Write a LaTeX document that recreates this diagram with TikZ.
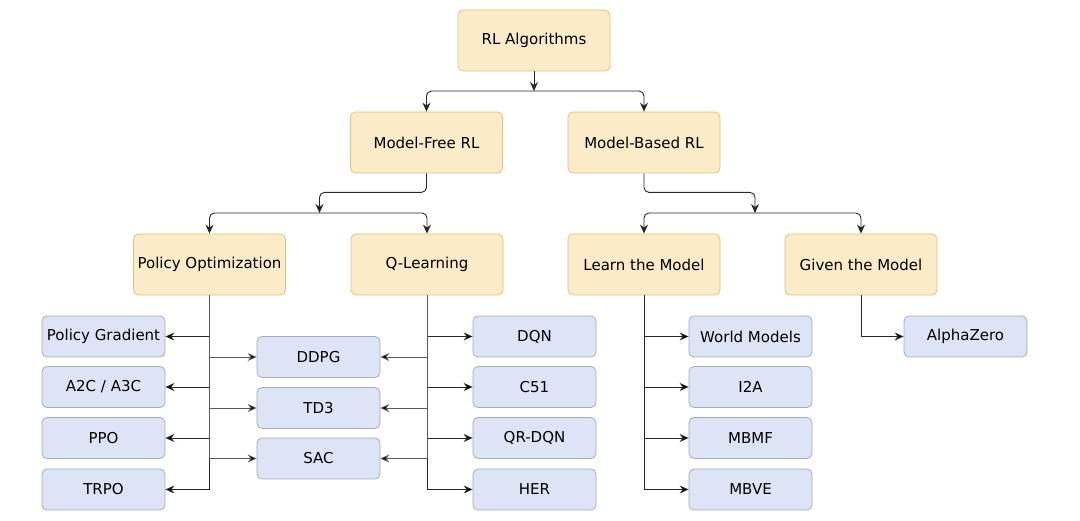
\documentclass[tikz,border=0pt]{standalone}
\usepackage{fontspec}
\setmainfont{DejaVu Sans}
\usepackage{tikz}
\usetikzlibrary{arrows.meta,positioning}
\usepackage{xcolor}
\definecolor{grpfill}{HTML}{FCEBC8}
\definecolor{grpline}{HTML}{DEC27A}
\definecolor{algofill}{HTML}{DDE4F5}
\definecolor{algoline}{HTML}{A3ABBD}
\definecolor{wire}{HTML}{262626}
\definecolor{softwire}{HTML}{5A5A5A}

\begin{document}
\begin{tikzpicture}[x=1pt,y=-1pt,font=\fontsize{15}{18}\selectfont,
grp/.style={draw=grpline,fill=grpfill,rounded corners=5pt,minimum width=152pt,minimum height=61pt,inner sep=0pt,line width=0.8pt},
algo/.style={draw=algoline,fill=algofill,rounded corners=5pt,minimum width=123pt,minimum height=41pt,inner sep=0pt,line width=0.8pt},
>={Stealth[length=9pt,width=8pt,inset=3pt]}]
\useasboundingbox (0,0) rectangle (1080,521);
% groups
\node[grp] (rl) at (534,40.5) {RL Algorithms};
\node[grp] (mf) at (426.5,142.5) {Model-Free RL};
\node[grp] (mb) at (644,142.5) {Model-Based RL};
\node[grp] (po) at (209.5,264.5) {Policy Optimization};
\node[grp] (ql) at (427,264.5) {Q-Learning};
\node[grp] (lm) at (644,264.5) {Learn the Model};
\node[grp] (gm) at (861,264.5) {Given the Model};
% policy optimization
\node[algo] (pg) at (103.5,336.5) {Policy Gradient};
\node[algo] (a2c) at (103.5,387) {A2C / A3C};
\node[algo] (ppo) at (103.5,438) {PPO};
\node[algo] (trpo) at (103.5,489.5) {TRPO};
% both
\node[algo] (ddpg) at (318.5,357) {DDPG};
\node[algo] (td3) at (318.5,408) {TD3};
\node[algo] (sac) at (318.5,458.5) {SAC};
% q-learning
\node[algo] (dqn) at (534.5,336.5) {DQN};
\node[algo] (c51) at (534.5,387) {C51};
\node[algo] (qrdqn) at (534.5,438) {QR-DQN};
\node[algo] (her) at (534.5,489.5) {HER};
% model based
\node[algo] (wm) at (750.5,336.5) {World Models};
\node[algo] (i2a) at (750.5,387) {I2A};
\node[algo] (mbmf) at (750.5,438) {MBMF};
\node[algo] (mbve) at (750.5,489.5) {MBVE};
\node[algo] (az) at (965.5,336.5) {AlphaZero};
% joints
\coordinate (jrl) at (534,91);
\coordinate (jmf) at (319.5,213);
\coordinate (jmb) at (755,213);
\draw[->,wire,line width=0.9pt] (rl) -- (jrl);
\draw[->,wire,line width=0.9pt,rounded corners=5pt] (jrl) -| (mf);
\draw[->,wire,line width=0.9pt,rounded corners=5pt] (jrl) -| (mb);
\draw[->,wire,line width=0.9pt,rounded corners=5pt] (mf.south) -- ++(0,19) -| (jmf);
\draw[->,wire,line width=0.9pt,rounded corners=5pt] (jmf) -| (po);
\draw[->,wire,line width=0.9pt,rounded corners=5pt] (jmf) -| (ql);
\draw[->,wire,line width=0.9pt,rounded corners=5pt] (mb.south) -- ++(0,19) -| (jmb);
\draw[->,wire,line width=0.9pt,rounded corners=5pt] (jmb) -| (lm);
\draw[->,wire,line width=0.9pt,rounded corners=5pt] (jmb) -| (gm);
% leaves
\path[->,draw=wire,line width=0.9pt]
(po) edge[to path={|- (\tikztotarget)}] (pg)
(po) edge[to path={|- (\tikztotarget)}] (a2c)
(po) edge[to path={|- (\tikztotarget)}] (ppo)
(po) edge[to path={|- (\tikztotarget)}] (trpo)
(ql) edge[to path={|- (\tikztotarget)}] (dqn)
(ql) edge[to path={|- (\tikztotarget)}] (c51)
(ql) edge[to path={|- (\tikztotarget)}] (qrdqn)
(ql) edge[to path={|- (\tikztotarget)}] (her)
(lm) edge[to path={|- (\tikztotarget)}] (wm)
(lm) edge[to path={|- (\tikztotarget)}] (i2a)
(lm) edge[to path={|- (\tikztotarget)}] (mbmf)
(lm) edge[to path={|- (\tikztotarget)}] (mbve)
(gm) edge[to path={|- (\tikztotarget)}] (az);
\path[->,draw=softwire,line width=0.8pt]
(po) edge[to path={|- (\tikztotarget)}] (ddpg)
(po) edge[to path={|- (\tikztotarget)}] (td3)
(po) edge[to path={|- (\tikztotarget)}] (sac)
(ql) edge[to path={|- (\tikztotarget)}] (ddpg)
(ql) edge[to path={|- (\tikztotarget)}] (td3)
(ql) edge[to path={|- (\tikztotarget)}] (sac);
\end{tikzpicture}
\end{document}
